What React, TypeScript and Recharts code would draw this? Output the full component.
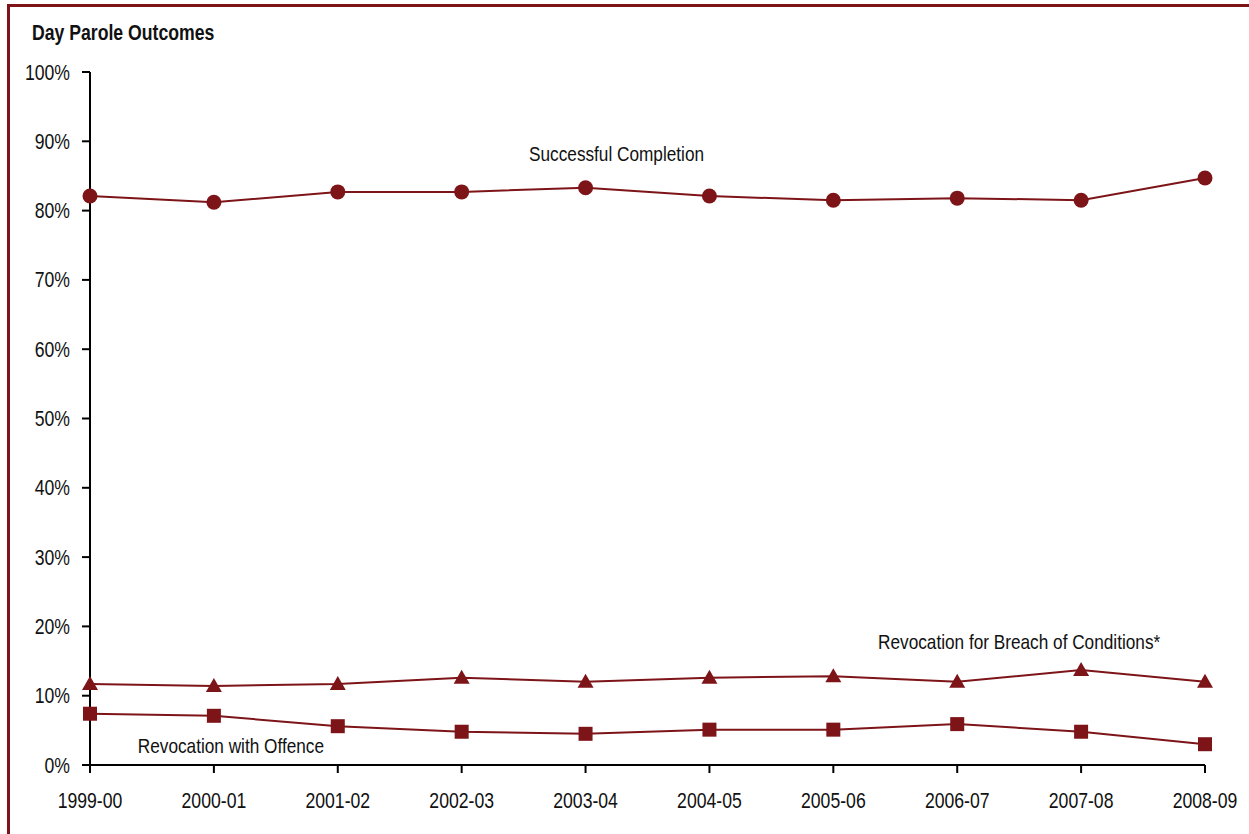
import React from "react";
import { LineChart, Line, XAxis, YAxis, ReferenceDot } from "recharts";

const years = ["1999-00", "2000-01", "2001-02", "2002-03", "2003-04", "2004-05", "2005-06", "2006-07", "2007-08", "2008-09"];
const successful = [0.821, 0.812, 0.827, 0.827, 0.833, 0.821, 0.815, 0.818, 0.815, 0.847];
const breach = [0.117, 0.114, 0.117, 0.126, 0.12, 0.126, 0.128, 0.12, 0.137, 0.12];
const offence = [0.074, 0.071, 0.056, 0.048, 0.045, 0.051, 0.051, 0.059, 0.048, 0.03];
const yTicks = [0, 0.1, 0.2, 0.3, 0.4, 0.5, 0.6, 0.7, 0.8, 0.9, 1];

const data = years.map((y, i) => ({ year: y, successful: successful[i], breach: breach[i], offence: offence[i] }));

const RED = "#7d1418";
const FONT = "'Liberation Sans', Arial, sans-serif";
const SX = 0.82;

const CircleDot = (p: any) => <circle key={p.index} cx={p.cx} cy={p.cy} r={7.5} fill={RED} />;
const TriDot = (p: any) => (
  <path key={p.index} d={`M${p.cx},${p.cy - 8} L${p.cx + 8},${p.cy + 6} L${p.cx - 8},${p.cy + 6} Z`} fill={RED} />
);
const SqDot = (p: any) => <rect key={p.index} x={p.cx - 7} y={p.cy - 7} width={14} height={14} fill={RED} />;

const NarrowText = ({ x, y, anchor, dy, size, children }: any) => (
  <text
    transform={`translate(${x},${y}) scale(${SX},1)`}
    x={0}
    y={0}
    dy={dy}
    textAnchor={anchor}
    fontSize={size}
    fontFamily={FONT}
    fill="#111"
  >
    {children}
  </text>
);

const XTick = (p: any) => (
  <NarrowText x={p.x} y={p.y} anchor="middle" dy="0.71em" size={21.5}>
    {p.payload.value}
  </NarrowText>
);
const YTick = (p: any) => (
  <NarrowText x={p.x} y={p.y} anchor="end" dy="0.35em" size={21.5}>
    {`${Math.round(p.payload.value * 100)}%`}
  </NarrowText>
);

const annot = (text: string, dx: number) => (props: any) => {
  const vb = props.viewBox || {};
  const cx = vb.x + (vb.width || 0) / 2;
  const cy = vb.y + (vb.height || 0) / 2;
  return (
    <NarrowText x={cx + dx} y={cy} anchor="middle" dy="0.35em" size={21}>
      {text}
    </NarrowText>
  );
};

export default function App() {
  return (
    <div style={{ position: "absolute", left: 0, top: 0, width: 1249, height: 834, background: "#fff" }}>
      <div
        style={{
          position: "absolute",
          left: 7,
          top: 4,
          width: 1242,
          height: 830,
          borderTop: `3px solid ${RED}`,
          borderLeft: `3px solid ${RED}`,
          boxSizing: "border-box",
        }}
      />
      <div
        style={{
          position: "absolute",
          left: 32,
          top: 21,
          fontFamily: FONT,
          fontWeight: "bold",
          fontSize: 21.5,
          color: "#111",
          lineHeight: "24px",
          whiteSpace: "nowrap",
          transform: `scaleX(${SX})`,
          transformOrigin: "left top",
        }}
      >
        Day Parole Outcomes
      </div>
      <div style={{ position: "absolute", left: 0, top: 0 }}>
        <LineChart width={1249} height={834} data={data} margin={{ top: 72, right: 44, bottom: 29, left: 30 }}>
          <XAxis
            dataKey="year"
            axisLine={{ stroke: "#000", strokeWidth: 2 }}
            tickLine={{ stroke: "#000", strokeWidth: 2 }}
            tickSize={8}
            tickMargin={20}
            height={40}
            interval={0}
            tick={XTick}
          />
          <YAxis
            domain={[0, 1]}
            ticks={yTicks}
            axisLine={{ stroke: "#000", strokeWidth: 2 }}
            tickLine={{ stroke: "#000", strokeWidth: 2 }}
            tickSize={8}
            tickMargin={12}
            width={60}
            interval={0}
            tick={YTick}
          />
          <Line dataKey="successful" stroke={RED} strokeWidth={2} dot={CircleDot} isAnimationActive={false} />
          <Line dataKey="breach" stroke={RED} strokeWidth={2} dot={TriDot} isAnimationActive={false} />
          <Line dataKey="offence" stroke={RED} strokeWidth={2} dot={SqDot} isAnimationActive={false} />
          <ReferenceDot x="2003-04" y={0.882} r={0} fill="none" stroke="none" label={annot("Successful Completion", 31)} />
          <ReferenceDot x="2007-08" y={0.1775} r={0} fill="none" stroke="none" label={annot("Revocation for Breach of Conditions*", -62)} />
          <ReferenceDot x="2000-01" y={0.0274} r={0} fill="none" stroke="none" label={annot("Revocation with Offence", 17)} />
        </LineChart>
      </div>
    </div>
  );
}
